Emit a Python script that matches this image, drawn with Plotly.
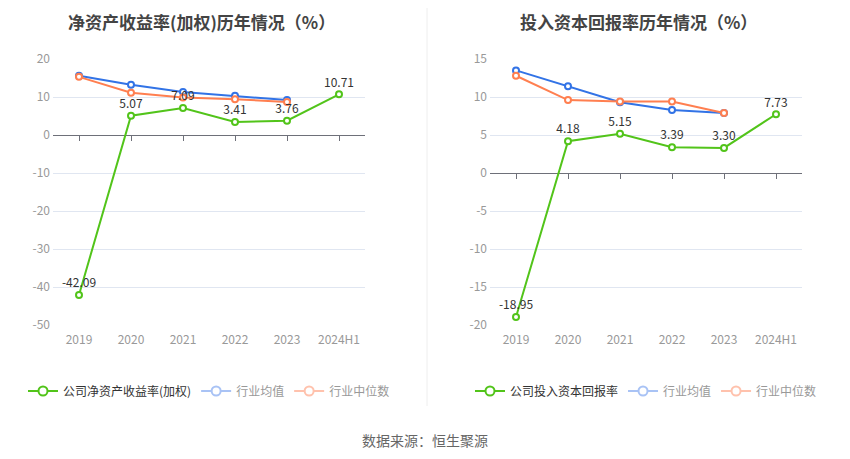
import plotly.graph_objects as go

years = ["2019", "2020", "2021", "2022", "2023", "2024H1"]

roe_company = [-42.09, 5.07, 7.09, 3.41, 3.76, 10.71]
roe_mean = [15.6, 13.2, 11.3, 10.3, 9.2]
roe_median = [15.3, 11.1, 9.9, 9.4, 8.7]

roic_company = [-18.95, 4.18, 5.15, 3.39, 3.30, 7.73]
roic_mean = [13.5, 11.4, 9.3, 8.3, 7.9]
roic_median = [12.8, 9.6, 9.4, 9.4, 7.9]

roe_ticks = [20, 10, 0, -10, -20, -30, -40, -50]
roic_ticks = [15, 10, 5, 0, -5, -10, -15, -20]

GREEN = "#52c41a"
BLUE = "#3273e6"
ORANGE = "#ff7f50"
FONT = "Noto Sans CJK SC"

# the page body has an 8px margin, so the figure is shrunk to fit the window
W, H = 842, 451
MT, MB = 20, 20
OFF = 8


def sx(v):
    # screen pixel -> paper fraction
    return (v - OFF) / W


def sy(v):
    return 1 - (v - OFF - MT) / (H - MT - MB)


def line(x, y, color, xa, ya, text=None):
    return go.Scatter(
        x=x,
        y=y,
        xaxis=xa,
        yaxis=ya,
        mode="lines+markers+text" if text else "lines+markers",
        line=dict(color=color, width=2),
        marker=dict(symbol="circle", size=6, color="white",
                    line=dict(color=color, width=2)),
        text=text,
        textposition="top center",
        textfont=dict(size=12, color="#333333", family=FONT),
        showlegend=False,
        hoverinfo="skip",
        cliponaxis=False,
    )


def legend_item(name, color, legend):
    return go.Scatter(
        x=[None],
        y=[None],
        mode="lines+markers",
        name=name,
        line=dict(color=color, width=2),
        marker=dict(symbol="circle", size=9, color="white",
                    line=dict(color=color, width=2)),
        legend=legend,
        showlegend=True,
    )


fig = go.Figure()

fig.add_trace(line(years[:5], roe_mean, BLUE, "x", "y"))
fig.add_trace(line(years[:5], roe_median, ORANGE, "x", "y"))
fig.add_trace(line(years, roe_company, GREEN, "x", "y",
                   [f"{v:.2f}" for v in roe_company]))

fig.add_trace(line(years[:5], roic_mean, BLUE, "x2", "y2"))
fig.add_trace(line(years[:5], roic_median, ORANGE, "x2", "y2"))
fig.add_trace(line(years, roic_company, GREEN, "x2", "y2",
                   [f"{v:.2f}" for v in roic_company]))

# empty traces so the tick-only axes on the zero line get drawn
fig.add_trace(go.Scatter(x=years, y=[None] * 6, xaxis="x3", yaxis="y",
                         showlegend=False, hoverinfo="skip"))
fig.add_trace(go.Scatter(x=years, y=[None] * 6, xaxis="x4", yaxis="y2",
                         showlegend=False, hoverinfo="skip"))

grey_name = "<span style='color:#999999'>{}</span>"
fig.add_trace(legend_item("公司净资产收益率(加权)", GREEN, "legend"))
fig.add_trace(legend_item(grey_name.format("行业均值"), "#a9c3f5", "legend"))
fig.add_trace(legend_item(grey_name.format("行业中位数"), "#ffc2ad", "legend"))
fig.add_trace(legend_item("公司投入资本回报率", GREEN, "legend2"))
fig.add_trace(legend_item(grey_name.format("行业均值"), "#a9c3f5", "legend2"))
fig.add_trace(legend_item(grey_name.format("行业中位数"), "#ffc2ad", "legend2"))

y_dom = [sy(325), sy(59)]
roe_range = [min(roe_ticks), max(roe_ticks)]
roic_range = [min(roic_ticks), max(roic_ticks)]


def zero_pos(rng):
    return y_dom[0] + (y_dom[1] - y_dom[0]) * (0 - rng[0]) / (rng[1] - rng[0])


axis_common = dict(
    showgrid=True,
    gridcolor="#e0e6f1",
    gridwidth=1,
    zeroline=True,
    zerolinecolor="#6e7079",
    zerolinewidth=1,
    tickfont=dict(size=12, color="#999999", family=FONT),
    showline=False,
    ticks="",
    automargin=False,
    ticklabelstandoff=2,
)
x_common = dict(
    type="category",
    range=[-0.5, 5.5],
    showgrid=False,
    zeroline=False,
    showline=False,
    ticks="",
    automargin=False,
    ticklabelstandoff=6,
    tickfont=dict(size=12, color="#999999", family=FONT),
)
tick_axis = dict(
    anchor="free",
    showticklabels=False,
    ticks="outside",
    ticklen=5,
    tickcolor="#6e7079",
    showgrid=False,
    zeroline=False,
    showline=False,
    automargin=False,
)

legend_common = dict(
    orientation="h",
    xanchor="left",
    yanchor="middle",
    font=dict(size=12, color="#333333", family=FONT),
    bgcolor="rgba(0,0,0,0)",
    itemwidth=30,
    tracegroupgap=0,
)

title_font = dict(size=17, color="#444444", family=FONT)

fig.update_layout(
    width=W,
    height=H,
    margin=dict(l=0, r=0, t=MT, b=MB),
    paper_bgcolor="white",
    plot_bgcolor="white",
    font=dict(family=FONT),
    xaxis=dict(domain=[sx(53), sx(365)], anchor="y", **x_common),
    yaxis=dict(domain=y_dom, anchor="x", range=roe_range,
               tickvals=roe_ticks, ticktext=[str(t) for t in roe_ticks],
               **axis_common),
    xaxis2=dict(domain=[sx(490), sx(802)], anchor="y2", **x_common),
    yaxis2=dict(domain=y_dom, anchor="x2", range=roic_range,
                tickvals=roic_ticks, ticktext=[str(t) for t in roic_ticks],
                **axis_common),
    xaxis3=dict(overlaying="x", matches="x", position=zero_pos(roe_range),
                **tick_axis),
    xaxis4=dict(overlaying="x2", matches="x2", position=zero_pos(roic_range),
                **tick_axis),
    legend=dict(x=sx(23), y=sy(391), **legend_common),
    legend2=dict(x=sx(470), y=sy(391), **legend_common),
    annotations=[
        dict(text="<b>净资产收益率(加权)历年情况（%）</b>", x=sx(201), y=sy(8),
             xref="paper", yref="paper", xanchor="center", yanchor="top",
             borderpad=0, showarrow=False, font=title_font),
        dict(text="<b>投入资本回报率历年情况（%）</b>", x=sx(638), y=sy(8),
             xref="paper", yref="paper", xanchor="center", yanchor="top",
             borderpad=0, showarrow=False, font=title_font),
        dict(text="数据来源：恒生聚源", x=sx(425), y=sy(440),
             xref="paper", yref="paper", xanchor="center", yanchor="middle",
             showarrow=False,
             font=dict(size=14, color="#666666", family=FONT)),
    ],
    shapes=[
        dict(type="line", xref="paper", yref="paper",
             x0=sx(427), x1=sx(427), y0=sy(406), y1=sy(8),
             line=dict(color="#eeeeee", width=1)),
    ],
)

fig.write_html("out.html")
